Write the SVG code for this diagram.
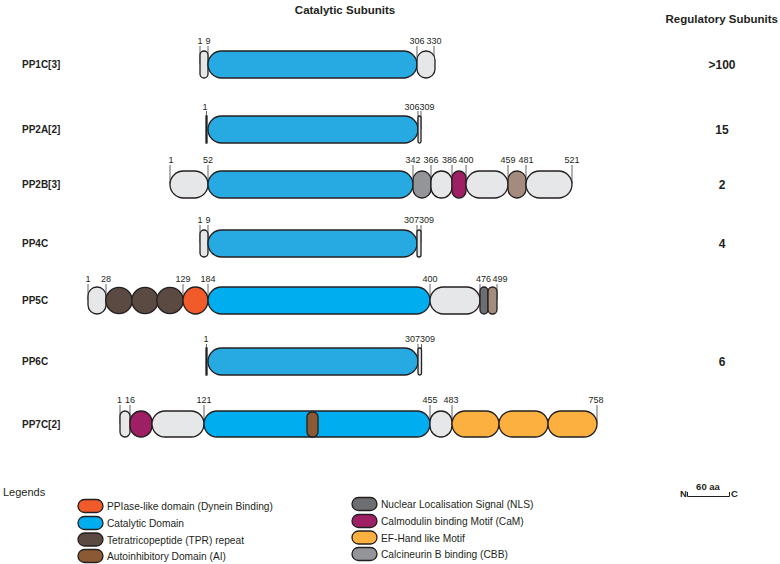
<svg xmlns="http://www.w3.org/2000/svg" width="780" height="564" viewBox="0 0 780 564">
<style>
text{font-family:"Liberation Sans",Arial,Helvetica,sans-serif;fill:#231f20}
.title{font-size:11.5px;font-weight:bold}
.name{font-size:10px;font-weight:bold}
.reg{font-size:12px;font-weight:bold;text-anchor:middle}
.num{font-size:9px;text-anchor:middle}
.ne{font-size:9px;text-anchor:end}
.ns{font-size:9px;text-anchor:start}
.leg{font-size:10.2px}
.s{stroke:#231f20;stroke-width:1.3}
.t{stroke:#231f20;stroke-width:0.7}
.lg{fill:#e6e7e8}.cat{fill:#27a9e1}.cat2{fill:#00aeef}.tpr{fill:#5b4a42}.ppi{fill:#f15a29}
.ai{fill:#8b5a34}.nls{fill:#6d6e71}.cam{fill:#9e1f63}.ef{fill:#fbb040}.cbb{fill:#939598}.bg{fill:#a38b7d}.blk{fill:#231f20}
</style>
<text class="title" x="345" y="14" text-anchor="middle">Catalytic Subunits</text>
<text class="title" x="778" y="23" text-anchor="end">Regulatory Subunits</text>

<g id="pp1c">
<text class="name" x="22" y="68">PP1C[3]</text>
<g class="t"><line x1="200" y1="46" x2="200" y2="64"/><line x1="208" y1="46" x2="208" y2="64"/><line x1="417" y1="46" x2="417" y2="64"/><line x1="434" y1="46" x2="434" y2="64"/></g>
<rect class="s lg" x="200" y="51" width="8" height="27" rx="4"/>
<rect class="s cat" x="208" y="51" width="209" height="27" rx="13.5"/>
<rect class="s lg" x="417" y="51" width="18" height="27" rx="9"/>
<text class="num" x="200" y="44">1</text><text class="num" x="208" y="44">9</text><text class="num" x="417" y="44">306</text><text class="num" x="434" y="44">330</text>
<text class="reg" x="722" y="69">&gt;100</text>
</g>

<g id="pp2a">
<text class="name" x="22" y="133">PP2A[2]</text>
<g class="t"><line x1="206.5" y1="111" x2="206.5" y2="129"/><line x1="418" y1="111" x2="418" y2="129"/><line x1="421" y1="111" x2="421" y2="129"/></g>
<rect class="s blk" x="206" y="116" width="1" height="27"/>
<rect class="s cat" x="208" y="116" width="210" height="27" rx="13.5"/>
<rect class="s lg" x="418" y="116" width="3" height="27" rx="1.5"/>
<text class="num" x="205" y="110">1</text><text class="ne" x="419.5" y="110">306</text><text class="ns" x="419.5" y="110">309</text>
<text class="reg" x="722" y="134">15</text>
</g>

<g id="pp2b">
<text class="name" x="22" y="188">PP2B[3]</text>
<g class="t"><line x1="170" y1="165" x2="170" y2="184"/><line x1="208" y1="165" x2="208" y2="184"/><line x1="413" y1="165" x2="413" y2="184"/><line x1="431" y1="165" x2="431" y2="184"/><line x1="452" y1="165" x2="452" y2="184"/><line x1="466" y1="165" x2="466" y2="184"/><line x1="508" y1="165" x2="508" y2="184"/><line x1="526" y1="165" x2="526" y2="184"/><line x1="572" y1="165" x2="572" y2="184"/></g>
<rect class="s lg" x="170" y="171" width="38" height="27" rx="13.5"/>
<rect class="s cat" x="208" y="171" width="205" height="27" rx="13.5"/>
<rect class="s cbb" x="413" y="171" width="18" height="27" rx="9"/>
<rect class="s lg" x="431" y="171" width="21" height="27" rx="10.5"/>
<rect class="s cam" x="452" y="171" width="14" height="27" rx="7"/>
<rect class="s lg" x="466" y="171" width="42" height="27" rx="13.5"/>
<rect class="s bg" x="508" y="171" width="18" height="27" rx="9"/>
<rect class="s lg" x="526" y="171" width="46" height="27" rx="13.5"/>
<text class="num" x="171" y="163">1</text><text class="num" x="208" y="163">52</text><text class="num" x="413" y="163">342</text><text class="num" x="431" y="163">366</text><text class="num" x="449.5" y="163">386</text><text class="num" x="466" y="163">400</text><text class="num" x="508" y="163">459</text><text class="num" x="526" y="163">481</text><text class="num" x="572" y="163">521</text>
<text class="reg" x="722" y="189">2</text>
</g>

<g id="pp4c">
<text class="name" x="22" y="247">PP4C</text>
<g class="t"><line x1="200" y1="225" x2="200" y2="243"/><line x1="208" y1="225" x2="208" y2="243"/><line x1="417" y1="225" x2="417" y2="243"/><line x1="421" y1="225" x2="421" y2="243"/></g>
<rect class="s lg" x="200" y="230" width="8" height="27" rx="4"/>
<rect class="s cat" x="208" y="230" width="209" height="27" rx="13.5"/>
<rect class="s lg" x="417" y="230" width="4" height="27" rx="2"/>
<text class="num" x="200" y="223">1</text><text class="num" x="208" y="223">9</text><text class="ne" x="419" y="223">307</text><text class="ns" x="419" y="223">309</text>
<text class="reg" x="722" y="248">4</text>
</g>

<g id="pp5c">
<text class="name" x="22" y="304">PP5C</text>
<g class="t"><line x1="88" y1="284" x2="88" y2="300"/><line x1="106" y1="284" x2="106" y2="300"/><line x1="183" y1="284" x2="183" y2="300"/><line x1="208" y1="284" x2="208" y2="300"/><line x1="430" y1="284" x2="430" y2="300"/><line x1="480" y1="284" x2="480" y2="300"/><line x1="497" y1="284" x2="497" y2="300"/></g>
<rect class="s lg" x="88" y="287" width="18" height="27" rx="9"/>
<circle class="s tpr" cx="119" cy="300.5" r="13.2"/>
<circle class="s tpr" cx="145" cy="300.5" r="13.2"/>
<circle class="s tpr" cx="170" cy="300.5" r="13.2"/>
<ellipse class="s ppi" cx="195.5" cy="300.5" rx="12.5" ry="13.5"/>
<rect class="s cat2" x="208" y="287" width="222" height="27" rx="13.5"/>
<rect class="s lg" x="430" y="287" width="50" height="27" rx="13.5"/>
<rect class="s nls" x="480" y="287" width="8" height="27" rx="4"/>
<rect class="s bg" x="488" y="287" width="9" height="27" rx="4.5"/>
<text class="num" x="88" y="282">1</text><text class="num" x="106" y="282">28</text><text class="num" x="183" y="282">129</text><text class="num" x="208" y="282">184</text><text class="num" x="430" y="282">400</text><text class="num" x="483.5" y="282">476</text><text class="num" x="500" y="282">499</text>
</g>

<g id="pp6c">
<text class="name" x="22" y="365">PP6C</text>
<g class="t"><line x1="206.5" y1="344" x2="206.5" y2="361"/><line x1="418" y1="344" x2="418" y2="361"/><line x1="421.5" y1="344" x2="421.5" y2="361"/></g>
<rect class="s blk" x="206" y="348" width="1" height="27"/>
<rect class="s cat" x="208" y="348" width="210" height="27" rx="13.5"/>
<rect class="s lg" x="418" y="348" width="3.5" height="27" rx="1.75"/>
<text class="num" x="206" y="342">1</text><text class="ne" x="420" y="342">307</text><text class="ns" x="420" y="342">309</text>
<text class="reg" x="722" y="366">6</text>
</g>

<g id="pp7c">
<text class="name" x="22" y="428">PP7C[2]</text>
<g class="t"><line x1="120" y1="405" x2="120" y2="424"/><line x1="130" y1="405" x2="130" y2="424"/><line x1="204" y1="405" x2="204" y2="424"/><line x1="430" y1="405" x2="430" y2="424"/><line x1="452" y1="405" x2="452" y2="424"/><line x1="597" y1="405" x2="597" y2="424"/></g>
<rect class="s lg" x="120" y="411" width="10" height="26" rx="5"/>
<rect class="s cam" x="130" y="411" width="22" height="26" rx="11"/>
<rect class="s lg" x="152" y="411" width="52" height="26" rx="13"/>
<rect class="s cat2" x="204" y="411" width="226" height="26" rx="13"/>
<rect class="s ai" x="307" y="412" width="11" height="25" rx="5"/>
<rect class="s lg" x="430" y="411" width="22" height="26" rx="11"/>
<rect class="s ef" x="452" y="411" width="47" height="26" rx="13"/>
<rect class="s ef" x="499" y="411" width="49" height="26" rx="13"/>
<rect class="s ef" x="548" y="411" width="49" height="26" rx="13"/>
<text class="num" x="119.5" y="403">1</text><text class="num" x="130" y="403">16</text><text class="num" x="204" y="403">121</text><text class="num" x="430" y="403">455</text><text class="num" x="451" y="403">483</text><text class="num" x="596" y="403">758</text>
</g>

<g id="legend">
<text x="3" y="496" style="font-size:11px">Legends</text>
<rect class="s ppi" x="78" y="499.5" width="25" height="13" rx="6.5"/><text class="leg" x="107" y="510">PPIase-like domain (Dynein Binding)</text>
<rect class="s cat2" x="78" y="516.5" width="25" height="13" rx="6.5"/><text class="leg" x="107" y="527">Catalytic Domain</text>
<rect class="s tpr" x="78" y="533" width="25" height="13" rx="6.5"/><text class="leg" x="107" y="543.5">Tetratricopeptide (TPR) repeat</text>
<rect class="s ai" x="78" y="549.5" width="25" height="13" rx="6.5"/><text class="leg" x="107" y="560">Autoinhibitory Domain (AI)</text>
<rect class="s nls" x="352" y="497.5" width="25" height="13" rx="6.5"/><text class="leg" x="381" y="508">Nuclear Localisation Signal (NLS)</text>
<rect class="s cam" x="352" y="514.5" width="25" height="13" rx="6.5"/><text class="leg" x="381" y="525">Calmodulin binding Motif (CaM)</text>
<rect class="s ef" x="352" y="531" width="25" height="13" rx="6.5"/><text class="leg" x="381" y="541.5">EF-Hand like Motif</text>
<rect class="s cbb" x="352" y="547.5" width="25" height="13" rx="6.5"/><text class="leg" x="381" y="558">Calcineurin B binding (CBB)</text>
</g>

<g id="scalebar">
<text x="680" y="497" style="font-size:9.5px;font-weight:bold">N</text>
<text x="708" y="490" text-anchor="middle" style="font-size:9.5px;font-weight:bold">60 aa</text>
<path d="M687.5 492 V496.5 H729.5 V492" fill="none" stroke="#231f20" stroke-width="1"/>
<text x="731" y="497" style="font-size:9.5px;font-weight:bold">C</text>
</g>
</svg>
